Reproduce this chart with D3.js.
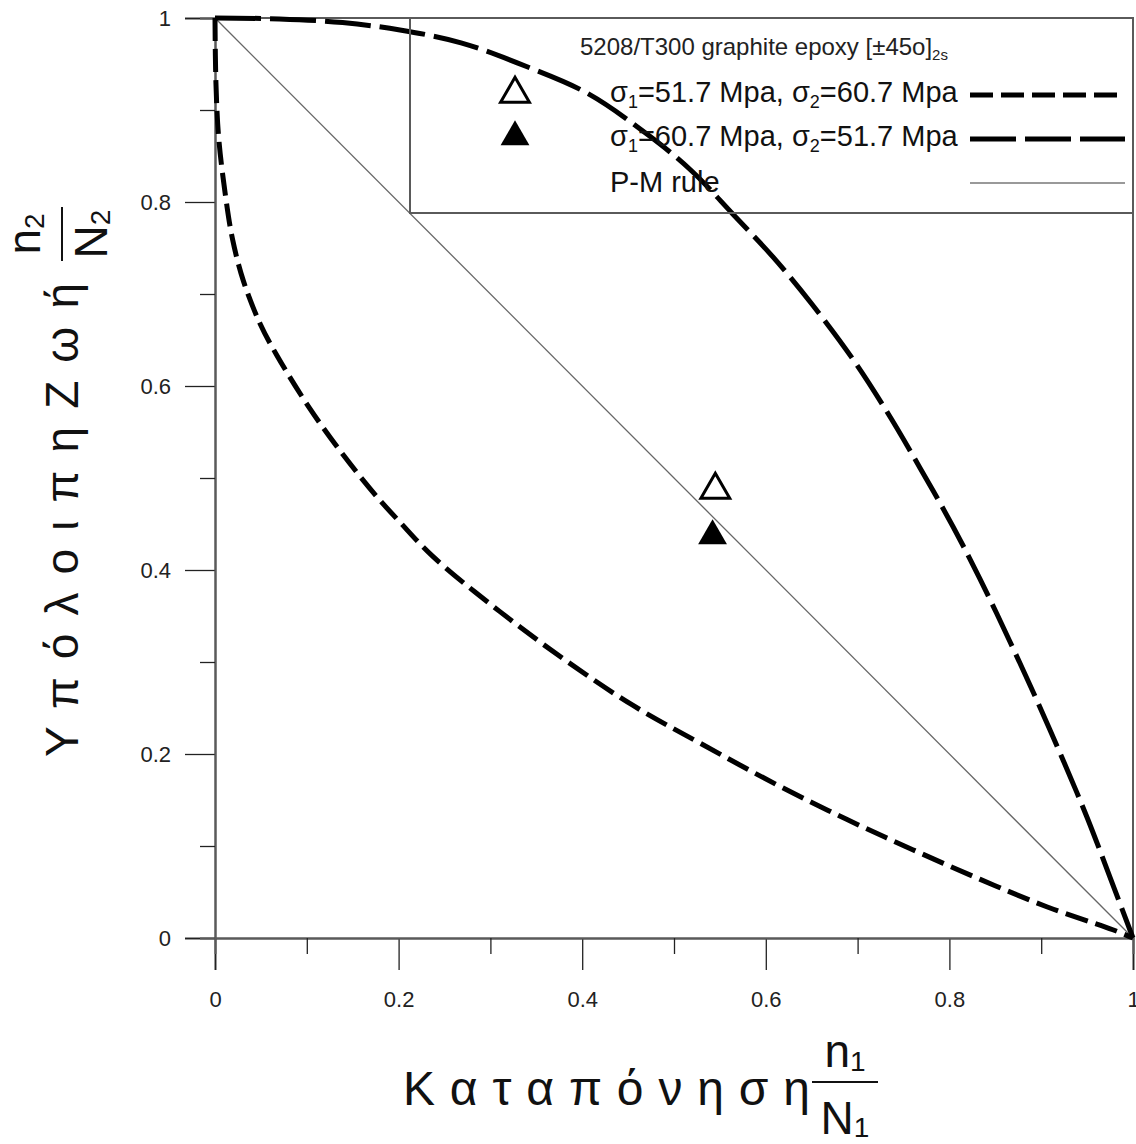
<!DOCTYPE html>
<html>
<head>
<meta charset="utf-8">
<script src="https://cdn.jsdelivr.net/npm/d3@7"></script>
<style>
  html, body { margin: 0; padding: 0; background: #fff; }
  svg { display: block; font-family: "Liberation Sans", Arial, sans-serif; }
</style>
</head>
<body>
<svg id="chart" width="1136" height="1144"></svg>
<script>
// Remaining-life curves for 5208/T300 graphite epoxy [±45o]2s under two-level loading
// x = n1/N1 (applied cycle ratio), y = n2/N2 (remaining life fraction)

// Low-High sequence (σ1=51.7 MPa, σ2=60.7 MPa)
const lowHighX = [0, 0.001, 0.004, 0.011, 0.019, 0.031, 0.049, 0.067, 0.103, 0.139, 0.176, 0.2015, 0.237, 0.31, 0.383, 0.455, 0.528, 0.615, 0.688, 0.76, 0.833, 0.906, 0.978, 1];
const lowHighY = [1, 0.93, 0.87, 0.81, 0.76, 0.714, 0.668, 0.634, 0.576, 0.526, 0.48, 0.452, 0.415, 0.355, 0.301, 0.253, 0.212, 0.165, 0.129, 0.096, 0.064, 0.034, 0.009, 0];

// High-Low sequence (σ1=60.7 MPa, σ2=51.7 MPa)
const highLowX = [0, 0.07, 0.139, 0.2015, 0.268, 0.34, 0.406, 0.473, 0.519, 0.564, 0.608, 0.651, 0.695, 0.732, 0.768, 0.804, 0.833, 0.866, 0.895, 0.924, 0.95, 0.975, 1];
const highLowY = [1, 0.999, 0.995, 0.987, 0.973, 0.947, 0.918, 0.872, 0.834, 0.787, 0.74, 0.688, 0.629, 0.572, 0.511, 0.447, 0.391, 0.322, 0.259, 0.193, 0.131, 0.066, 0];

// Palmgren-Miner linear rule
const minerX = [0, 1];
const minerY = [1, 0];

// Experimental points
const expLowHigh = [0.545, 0.487];
const expHighLow = [0.542, 0.437];

// Tick values
const majorTicks = [0, 0.2, 0.4, 0.6, 0.8, 1];
const minorTicks = [0.1, 0.3, 0.5, 0.7, 0.9];

const legendTitle = "5208/T300 graphite epoxy [±45o]";
const legendTitleSub = "2s";
const legendRows = [
  { a: "=51.7 Mpa, σ", b: "=60.7 Mpa" },
  { a: "=60.7 Mpa, σ", b: "=51.7 Mpa" }
];

const svg = d3.select("#chart");
const x = d3.scaleLinear().domain([0, 1]).range([215, 1133]);
const y = d3.scaleLinear().domain([0, 1]).range([938, 18]);

const frameColor = "#5a5a5a";
const fmt = d => String(d);

// Frame (top and right)
svg.append("line").attr("x1", x(0)).attr("x2", x(1)).attr("y1", y(1)).attr("y2", y(1))
  .attr("stroke", frameColor).attr("stroke-width", 2);
svg.append("line").attr("x1", x(1)).attr("x2", x(1)).attr("y1", y(1)).attr("y2", y(0))
  .attr("stroke", frameColor).attr("stroke-width", 2);

// Y axis
const yAxisMajor = svg.append("g").attr("transform", `translate(${x(0)},0)`)
  .call(d3.axisLeft(y).tickValues(majorTicks).tickSize(30).tickPadding(14).tickFormat(fmt));
const yAxisMinor = svg.append("g").attr("transform", `translate(${x(0)},0)`)
  .call(d3.axisLeft(y).tickValues(minorTicks).tickSize(15).tickFormat(""));
// X axis
const xAxisMajor = svg.append("g").attr("transform", `translate(0,${y(0)})`)
  .call(d3.axisBottom(x).tickValues(majorTicks).tickSize(32).tickPadding(21).tickFormat(fmt));
const xAxisMinor = svg.append("g").attr("transform", `translate(0,${y(0)})`)
  .call(d3.axisBottom(x).tickValues(minorTicks).tickSize(16).tickFormat(""));

[yAxisMajor, yAxisMinor, xAxisMajor, xAxisMinor].forEach(g => {
  g.select(".domain").attr("stroke", frameColor).attr("stroke-width", 2);
  g.selectAll(".tick line").attr("stroke", "#222").attr("stroke-width", 1.3);
  g.selectAll(".tick text").attr("font-size", 22).attr("fill", "#222")
    .attr("font-family", "'Liberation Sans', Arial, sans-serif");
});

// P-M rule
const line = d3.line().x(d => x(d[0])).y(d => y(d[1]));
svg.append("path").datum(minerX.map((v, i) => [v, minerY[i]]))
  .attr("d", line).attr("fill", "none").attr("stroke", "#666").attr("stroke-width", 1.3);

// Curves
const smooth = d3.line().x(d => x(d[0])).y(d => y(d[1])).curve(d3.curveCatmullRom.alpha(0.5));
svg.append("path").datum(lowHighX.map((v, i) => [v, lowHighY[i]]))
  .attr("d", smooth).attr("fill", "none").attr("stroke", "#000")
  .attr("stroke-width", 5).attr("stroke-dasharray", "23,8");
svg.append("path").datum(highLowX.map((v, i) => [v, highLowY[i]]))
  .attr("d", smooth).attr("fill", "none").attr("stroke", "#000")
  .attr("stroke-width", 5).attr("stroke-dasharray", "46,9");

// Experimental markers
const tri = d3.symbol().type(d3.symbolTriangle).size(360);
svg.append("path").attr("d", tri)
  .attr("transform", `translate(${x(expLowHigh[0])},${y(expLowHigh[1])})`)
  .attr("fill", "#fff").attr("stroke", "#000").attr("stroke-width", 3);
svg.append("path").attr("d", tri)
  .attr("transform", `translate(${x(expHighLow[0])},${y(expHighLow[1])})`)
  .attr("fill", "#000");

// Legend
const lg = svg.append("g");
lg.append("rect").attr("x", 410).attr("y", 18).attr("width", 723).attr("height", 195)
  .attr("fill", "none").attr("stroke", frameColor).attr("stroke-width", 2);
const title = lg.append("text").attr("x", 580).attr("y", 55).attr("font-size", 24).attr("fill", "#222");
title.append("tspan").text(legendTitle);
title.append("tspan").attr("font-size", 15).attr("dy", 5).text(legendTitleSub);

legendRows.forEach((r, i) => {
  const yy = 102 + i * 44;
  const t = lg.append("text").attr("x", 610).attr("y", yy).attr("font-size", 29).attr("fill", "#111");
  t.append("tspan").text("σ");
  t.append("tspan").attr("font-size", 18).attr("dy", 6).text("1");
  t.append("tspan").attr("dy", -6).text(r.a);
  t.append("tspan").attr("font-size", 18).attr("dy", 6).text("2");
  t.append("tspan").attr("dy", -6).text(r.b);
});
lg.append("text").attr("x", 610).attr("y", 192).attr("font-size", 29).attr("fill", "#111").text("P-M rule");

lg.append("path").attr("d", tri).attr("transform", "translate(515,94)")
  .attr("fill", "#fff").attr("stroke", "#000").attr("stroke-width", 3);
lg.append("path").attr("d", tri).attr("transform", "translate(515,137)").attr("fill", "#000");

lg.append("line").attr("x1", 970).attr("x2", 1125).attr("y1", 95).attr("y2", 95)
  .attr("stroke", "#000").attr("stroke-width", 5).attr("stroke-dasharray", "23,8");
lg.append("line").attr("x1", 970).attr("x2", 1125).attr("y1", 139).attr("y2", 139)
  .attr("stroke", "#000").attr("stroke-width", 5).attr("stroke-dasharray", "46,9");
lg.append("line").attr("x1", 970).attr("x2", 1125).attr("y1", 183).attr("y2", 183)
  .attr("stroke", "#777").attr("stroke-width", 1.5);

// Axis titles with stacked fractions
function fraction(g, cx, lineY, numBase, denBase, top, topSub, bot, botSub, w) {
  const n = g.append("text").attr("x", cx).attr("y", numBase).attr("font-size", 46)
    .attr("text-anchor", "middle").attr("fill", "#111");
  n.append("tspan").text(top);
  n.append("tspan").attr("font-size", 28).attr("dy", 4).text(topSub);
  const d = g.append("text").attr("x", cx).attr("y", denBase).attr("font-size", 46)
    .attr("text-anchor", "middle").attr("fill", "#111");
  d.append("tspan").text(bot);
  d.append("tspan").attr("font-size", 28).attr("dy", 3).text(botSub);
  g.append("line").attr("x1", cx - w / 2).attr("x2", cx + w / 2).attr("y1", lineY).attr("y2", lineY)
    .attr("stroke", "#111").attr("stroke-width", 2);
}

const xt = svg.append("g").attr("transform", "translate(0,1105)");
xt.append("text").attr("x", 403).attr("y", 0).attr("font-size", 48).attr("fill", "#111")
  .attr("textLength", 407).attr("lengthAdjust", "spacing")
  .text("Κ α τ α π ό ν η σ η");
fraction(xt, 845, -23, -38, 29, "n", "1", "N", "1", 66);

const yt = svg.append("g").attr("transform", "translate(78,757) rotate(-90)");
yt.append("text").attr("x", 0).attr("y", 0).attr("font-size", 46).attr("fill", "#111")
  .attr("textLength", 474).attr("lengthAdjust", "spacing")
  .text("Υ π ό λ ο ι π η  Ζ ω ή");
fraction(yt, 523, -16, -38, 29, "n", "2", "N", "2", 54);
</script>
</body>
</html>
